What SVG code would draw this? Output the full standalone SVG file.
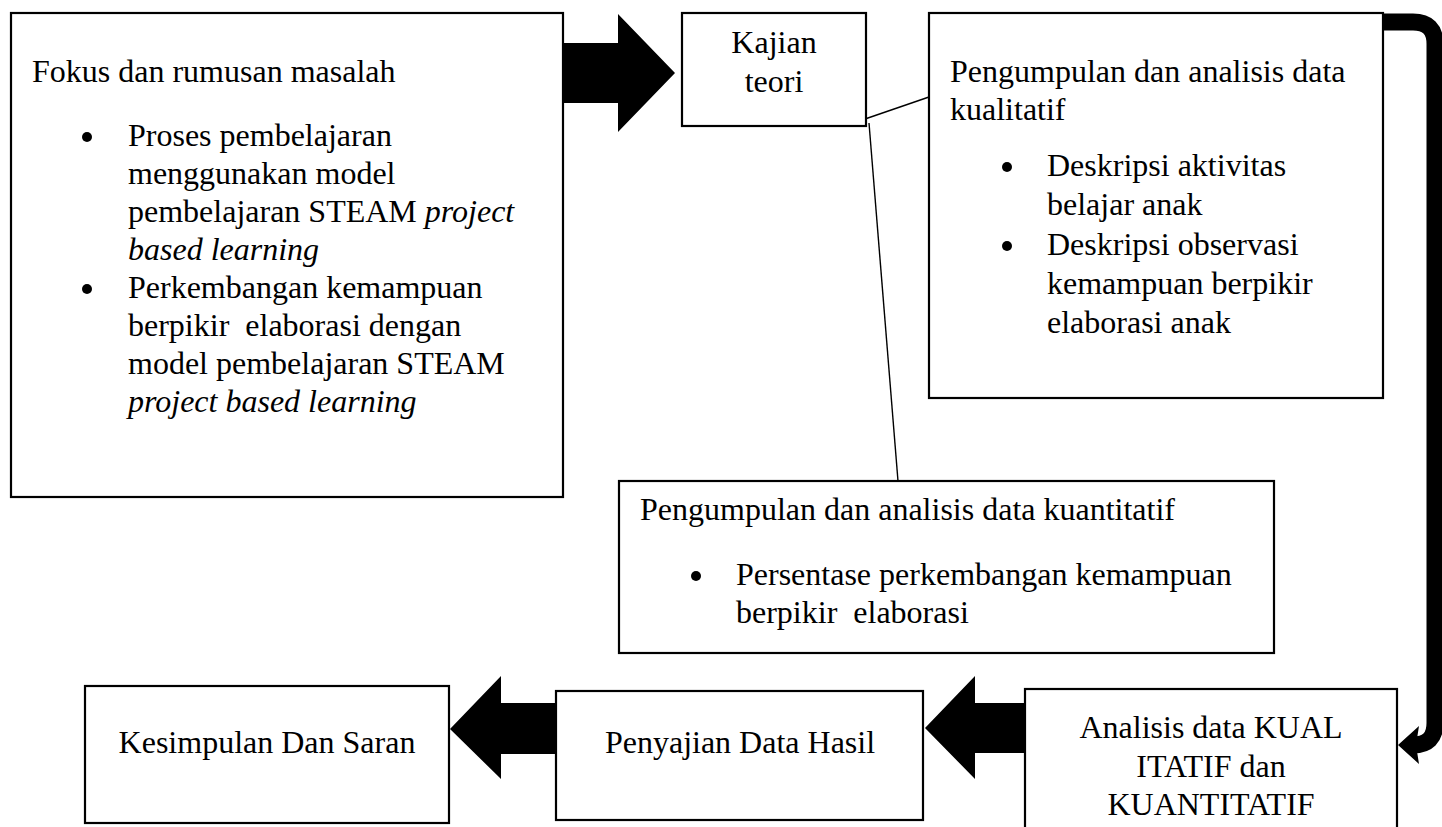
<svg xmlns="http://www.w3.org/2000/svg" width="1442" height="827" viewBox="0 0 1442 827">
<style>
.box{fill:#fff;stroke:#000;stroke-width:2.2}
.t{font-family:"Liberation Serif","Times New Roman",serif;font-size:32px;fill:#000;white-space:pre}
.c{text-anchor:middle}
.i{font-style:italic}
.thin{stroke:#000;stroke-width:1.4;fill:none}
.big{fill:#000}
</style>
<rect width="1442" height="827" fill="#fff"/>
<g id="connectors">
<line class="thin" x1="865" y1="119" x2="929" y2="97"/>
<line class="thin" x1="869" y1="123" x2="898" y2="481"/>
<path class="big" d="M563,43 H618 V14 L675,73 L618,132 V103 H563 Z"/>
<path class="big" d="M555,703 H501 V676 L450,729 L501,779 V754 H555 Z"/>
<path class="big" d="M1026,703 H975 V676 L925,728 L975,779 V753 H1026 Z"/>
<path d="M1383,22 H1413 Q1435,22 1435,44 V723 Q1435,745 1413,745 H1410" fill="none" stroke="#000" stroke-width="17"/>
<path class="big" d="M1398,745 L1419,726 L1416,745 L1419,764 Z"/>
</g>
<g id="fokus">
<rect class="box" x="11" y="13" width="552" height="484"/>
<text class="t" x="32" y="82">Fokus dan rumusan masalah</text>
<circle cx="87" cy="137" r="5"/>
<text class="t" x="128" y="146">Proses pembelajaran</text>
<text class="t" x="128" y="184">menggunakan model</text>
<text class="t" x="128" y="222">pembelajaran STEAM <tspan class="i">project</tspan></text>
<text class="t i" x="128" y="260">based learning</text>
<circle cx="87" cy="289" r="5"/>
<text class="t" x="128" y="298">Perkembangan kemampuan</text>
<text class="t" x="128" y="336">berpikir  elaborasi dengan</text>
<text class="t" x="128" y="374">model pembelajaran STEAM</text>
<text class="t i" x="128" y="412">project based learning</text>
</g>
<g id="kajian">
<rect class="box" x="682" y="13" width="184" height="113"/>
<text class="t c" x="774" y="53">Kajian</text>
<text class="t c" x="774" y="92">teori</text>
</g>
<g id="kualitatif">
<rect class="box" x="929" y="13" width="454" height="385"/>
<text class="t" x="950" y="82">Pengumpulan dan analisis data</text>
<text class="t" x="950" y="120">kualitatif</text>
<circle cx="1007" cy="167" r="5"/>
<text class="t" x="1047" y="176">Deskripsi aktivitas</text>
<text class="t" x="1047" y="215">belajar anak</text>
<circle cx="1007" cy="246" r="5"/>
<text class="t" x="1047" y="255">Deskripsi observasi</text>
<text class="t" x="1047" y="294">kemampuan berpikir</text>
<text class="t" x="1047" y="333">elaborasi anak</text>
</g>
<g id="kuantitatif">
<rect class="box" x="619" y="481" width="655" height="172"/>
<text class="t" x="640" y="520">Pengumpulan dan analisis data kuantitatif</text>
<circle cx="696" cy="576" r="5"/>
<text class="t" x="736" y="585">Persentase perkembangan kemampuan</text>
<text class="t" x="736" y="623">berpikir  elaborasi</text>
</g>
<g id="kesimpulan">
<rect class="box" x="85" y="686" width="364" height="137"/>
<text class="t c" x="267" y="753">Kesimpulan Dan Saran</text>
</g>
<g id="penyajian">
<rect class="box" x="556" y="691" width="367" height="129"/>
<text class="t c" x="740" y="753">Penyajian Data Hasil</text>
</g>
<g id="analisis">
<rect class="box" x="1025" y="689" width="372" height="160"/>
<text class="t c" x="1211" y="738">Analisis data KUAL</text>
<text class="t c" x="1211" y="777">ITATIF dan</text>
<text class="t c" x="1211" y="815">KUANTITATIF</text>
</g>
</svg>
